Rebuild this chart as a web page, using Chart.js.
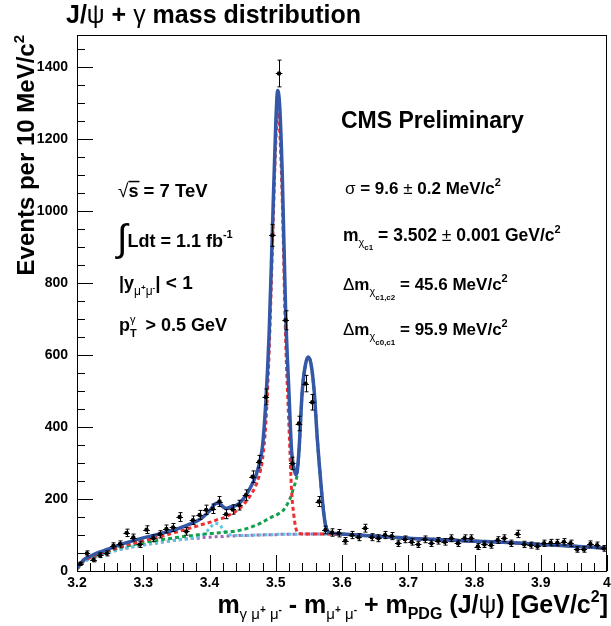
<!DOCTYPE html>
<html>
<head>
<meta charset="utf-8">
<script src="https://cdn.jsdelivr.net/npm/chart.js@4.4.0/dist/chart.umd.min.js"></script>
<style>
  html, body { margin: 0; padding: 0; background: #fff; }
</style>
</head>
<body>
<canvas id="massChart" width="611" height="626"></canvas>
<script>
// 10 MeV bins from 3.2 to 4.0 GeV
const binStart = 3.2;
const binWidth = 0.01;
const eventCounts = [
  20, 49, 31, 44, 49, 70, 75, 106, 93, 74,
  115, 91, 102, 117, 121, 150, 110, 141, 156, 170,
  173, 193, 158, 171, 183, 211, 262, 304, 484, 933,
  1383, 697, 299, 410, 521, 469, 193, 114, 107, 105,
  84, 100, 94, 119, 94, 91, 100, 97, 77, 88,
  81, 74, 88, 77, 84, 81, 91, 77, 91, 91,
  68, 74, 72, 86, 91, 77, 103, 74, 72, 69,
  77, 79, 79, 81, 77, 60, 60, 75, 72, 63
];

const curveMass = [
  3.200, 3.205, 3.210, 3.220, 3.230, 3.240, 3.250, 3.270, 3.300, 3.320,
  3.350, 3.370, 3.380, 3.390, 3.400, 3.408, 3.414, 3.420, 3.425, 3.430,
  3.440, 3.450, 3.460, 3.470, 3.475, 3.480, 3.485, 3.490, 3.495, 3.500,
  3.503, 3.506, 3.510, 3.515, 3.520, 3.524, 3.527, 3.530, 3.532, 3.535,
  3.540, 3.545, 3.549, 3.553, 3.558, 3.563, 3.566, 3.569, 3.572, 3.575,
  3.579, 3.585, 3.592, 3.600, 3.650, 3.700, 3.750, 3.800, 3.850, 3.900,
  3.950, 4.000
];
const fitTotal = [
  10, 20, 31, 41, 50, 56, 63, 76, 92, 101,
  116, 130, 138, 150, 167, 186, 189, 179, 174, 177,
  182, 198, 226, 265, 297, 346, 470, 660, 950, 1243,
  1336, 1290, 1090, 716, 493, 331, 290, 268, 273, 333,
  500, 575, 595, 578, 500, 360, 290, 225, 168, 128,
  110, 105, 104, 103, 97, 91, 87, 83, 79, 74,
  69, 63
];
const fitChic1 = [
  7, 18, 28, 38, 46, 52, 58, 70, 84, 93,
  108, 119, 124, 130, 135, 140, 144, 147, 151, 156,
  166, 182, 205, 238, 266, 310, 410, 610, 900, 1190,
  1275, 1225, 1020, 640, 400, 220, 160, 122, 110, 105,
  103, 103, 103, 103, 103, 103, 103, 103, 103, 103,
  103, 102, 102, 102, 97, 91, 87, 83, 79, 74,
  69, 63
];
const fitChic2 = [
  6, 16, 27, 37, 45, 51, 57, 67, 79, 85,
  93, 98, 100, 102, 104, 105, 106, 107, 108, 109,
  111, 115, 120, 127, 131, 136, 141, 146, 151, 154,
  158, 161, 166, 178, 195, 213, 232, 248, 265, 330,
  500, 575, 595, 578, 500, 360, 290, 225, 168, 128,
  110, 104, 103, 102, 97, 91, 87, 83, 79, 74,
  69, 63
];
const fitChic0 = [
  5, 15, 25, 35, 42, 48, 53, 62, 72, 78,
  86, 90, 93, 100, 118, 132, 131, 117, 107, 101,
  99, 99, 99, 100, 100, 100, 101, 101, 101, 101,
  102, 102, 102, 102, 102, 102, 102, 102, 102, 103,
  103, 103, 103, 103, 103, 103, 103, 103, 103, 103,
  103, 102, 102, 102, 97, 91, 87, 83, 79, 74,
  69, 63
];
const fitBackground = [
  5, 15, 25, 35, 42, 48, 53, 62, 72, 78,
  86, 90, 91, 93, 94, 95, 96, 96, 97, 97,
  98, 99, 99, 100, 100, 100, 101, 101, 101, 101,
  102, 102, 102, 102, 102, 102, 102, 102, 102, 103,
  103, 103, 103, 103, 103, 103, 103, 103, 103, 103,
  103, 102, 102, 102, 97, 91, 87, 83, 79, 74,
  69, 63
];

const FONT = "'Liberation Sans', Arial, Helvetica, sans-serif";

const dataPoints = eventCounts.map((n, i) => ({ x: binStart + binWidth * (i + 0.5), y: n }));
const curve = (vals) => vals.map((v, i) => ({ x: curveMass[i], y: v }));

// draw a line of text made of pieces: [text, size, bold, dy, noAdvance, overline]
function richText(ctx, x, y, parts, align) {
  let total = 0;
  const widths = parts.map((p) => {
    ctx.font = (p[2] ? "bold " : "") + p[1] + "px " + FONT;
    const w = ctx.measureText(p[0]).width;
    if (!p[4]) total += w;
    return w;
  });
  let cx = align === "right" ? x - total : x;
  parts.forEach((p, i) => {
    ctx.font = (p[2] ? "bold " : "") + p[1] + "px " + FONT;
    ctx.fillText(p[0], cx, y + (p[3] || 0));
    if (p[5]) {
      ctx.fillRect(cx, y - p[1] * 0.9, widths[i] + 1, 1.5);
    }
    if (!p[4]) cx += widths[i];
  });
}

const decorations = {
  id: "decorations",
  afterDatasetsDraw(chart) {
    const ctx = chart.ctx;
    const xs = chart.scales.x, ys = chart.scales.y;
    const a = chart.chartArea;
    ctx.save();

    // error bars
    ctx.strokeStyle = "#000";
    ctx.lineWidth = 1;
    ctx.beginPath();
    dataPoints.forEach((p) => {
      const px = Math.round(xs.getPixelForValue(p.x)) + 0.5;
      const py = ys.getPixelForValue(p.y);
      const e = Math.sqrt(p.y);
      const top = ys.getPixelForValue(p.y + e), bot = ys.getPixelForValue(p.y - e);
      const l = xs.getPixelForValue(p.x - binWidth / 2), r = xs.getPixelForValue(p.x + binWidth / 2);
      ctx.moveTo(px, top); ctx.lineTo(px, bot);
      ctx.moveTo(px - 2, top); ctx.lineTo(px + 2, top);
      ctx.moveTo(px - 2, bot); ctx.lineTo(px + 2, bot);
      ctx.moveTo(l, Math.round(py) + 0.5); ctx.lineTo(r, Math.round(py) + 0.5);
    });
    ctx.stroke();

    // frame
    ctx.lineWidth = 1;
    ctx.strokeRect(a.left + 0.5, a.top + 0.5, a.right - a.left - 1, a.bottom - a.top);

    // ticks inside the frame
    ctx.beginPath();
    for (let k = 0; k <= 40; k++) {
      const v = 3.2 + k * 0.02;
      const px = Math.round(xs.getPixelForValue(v)) + 0.5;
      const len = k % 5 === 0 ? 16 : 8;
      ctx.moveTo(px, a.bottom); ctx.lineTo(px, a.bottom - len);
    }
    for (let v = 0; v <= 1450; v += 50) {
      const py = Math.round(ys.getPixelForValue(v)) + 0.5;
      const len = v % 200 === 0 ? 16 : 8;
      ctx.moveTo(a.left, py); ctx.lineTo(a.left + len, py);
    }
    ctx.stroke();

    ctx.fillStyle = "#000";
    ctx.textBaseline = "alphabetic";
    ctx.textAlign = "left";

    // title
    richText(ctx, 66, 23, [["J/", 25, 1], ["ψ", 25, 0], [" + ", 25, 1], ["γ", 25, 0], [" mass distribution", 25, 1]]);

    // y title
    ctx.save();
    ctx.translate(34, 35);
    ctx.rotate(-Math.PI / 2);
    richText(ctx, 0, 0, [["Events per 10 MeV/c", 24, 1], ["2", 15, 1, -10]], "right");
    ctx.restore();

    // x title
    richText(ctx, 608, 613, [
      ["m", 25, 1], ["γ μ", 15, 0, 6], ["+", 10, 1, 0], [" μ", 15, 0, 6], ["-", 10, 1, 0],
      [" - m", 25, 1], ["μ", 15, 0, 6], ["+", 10, 1, 0], [" μ", 15, 0, 6], ["-", 10, 1, 0],
      [" + m", 25, 1], ["PDG", 16, 1, 6], [" (J/", 25, 1], ["ψ", 25, 0], [") [GeV/c", 25, 1],
      ["2", 16, 1, -11], ["]", 25, 1]
    ], "right");

    // left block
    richText(ctx, 118, 197, [["√", 19, 0], ["s", 18, 1, 0, 0, 1], [" = 7 TeV", 18.5, 1]]);
    richText(ctx, 117, 251, [["∫", 38, 0], ["Ldt = 1.1 fb", 18, 1, -4], ["-1", 11, 1, -13]]);
    richText(ctx, 119, 289, [["|y", 18, 1], ["μ", 12, 0, 6], ["+", 8, 1, 1], ["μ", 12, 0, 6], ["-", 8, 1, 1], ["| < 1", 19, 1]]);
    richText(ctx, 119, 331, [["p", 18, 1], ["T", 11, 1, 6, 1], ["γ", 11, 0, -8], ["  > 0.5 GeV", 18, 1]]);

    // right block
    richText(ctx, 341, 128, [["CMS Preliminary", 23, 1]]);
    richText(ctx, 345, 194, [["σ", 17, 0], [" = 9.6 ", 17, 1], ["±", 17, 0], [" 0.2 MeV/c", 17, 1], ["2", 11, 1, -8]]);
    richText(ctx, 343, 241, [["m", 17.5, 1], ["χ", 11, 0, 5], ["c1", 8, 1, 9], [" = 3.502 ", 17.5, 1], ["±", 17.5, 0], [" 0.001 GeV/c", 17.5, 1], ["2", 11, 1, -8]]);
    richText(ctx, 343, 290, [["Δ", 17, 0], ["m", 17, 1], ["χ", 11, 0, 5], ["c1,c2", 8, 1, 10], [" = 45.6 MeV/c", 17, 1], ["2", 11, 1, -8]]);
    richText(ctx, 343, 335, [["Δ", 17, 0], ["m", 17, 1], ["χ", 11, 0, 5], ["c0,c1", 8, 1, 10], [" = 95.9 MeV/c", 17, 1], ["2", 11, 1, -8]]);

    ctx.restore();
  }
};

const lineSet = (label, vals, color, width, dash, order) => ({
  label: label,
  type: "line",
  data: curve(vals),
  borderColor: color,
  borderWidth: width,
  borderDash: dash,
  pointRadius: 0,
  fill: false,
  cubicInterpolationMode: "monotone",
  order: order,
});

new Chart(document.getElementById("massChart"), {
  type: "scatter",
  data: {
    datasets: [
      {
        label: "data",
        data: dataPoints,
        pointRadius: 2.2,
        pointBackgroundColor: "#000",
        pointBorderColor: "#000",
        pointBorderWidth: 0,
        order: 0,
      },
      lineSet("total", fitTotal, "#3557a8", 3.5, [], 1),
      lineSet("chi_c1", fitChic1, "#ec2f2f", 3, [4, 3], 2),
      lineSet("chi_c2", fitChic2, "#13a04c", 3, [4, 3], 3),
      lineSet("chi_c0", fitChic0, "#5cc6e4", 3, [3, 3], 4),
      lineSet("background", fitBackground, "#a765b5", 3, [3, 3], 5),
    ],
  },
  options: {
    responsive: false,
    animation: false,
    layout: { padding: { top: 35, right: 1, left: 0, bottom: 0 } },
    plugins: { legend: { display: false }, tooltip: { enabled: false } },
    scales: {
      x: {
        type: "linear",
        min: 3.2,
        max: 4.0,
        grid: { display: false, drawTicks: false },
        border: { display: false },
        ticks: {
          stepSize: 0.1,
          autoSkip: false,
          maxRotation: 0,
          padding: 4,
          color: "#000",
          font: { family: FONT, size: 14, weight: "bold" },
          callback: (v) => String(+v.toFixed(1)),
        },
        afterFit: (s) => { s.height = 55; s.paddingLeft = 0; s.paddingRight = 0; },
      },
      y: {
        min: 0,
        max: 1490,
        grid: { display: false, drawTicks: false },
        border: { display: false },
        ticks: {
          stepSize: 200,
          includeBounds: false,
          padding: 9,
          color: "#000",
          font: { family: FONT, size: 14, weight: "bold" },
          callback: (v) => String(v),
        },
        afterFit: (s) => { s.width = 77; s.paddingTop = 0; s.paddingBottom = 0; },
      },
    },
  },
  plugins: [decorations],
});
</script>
</body>
</html>
